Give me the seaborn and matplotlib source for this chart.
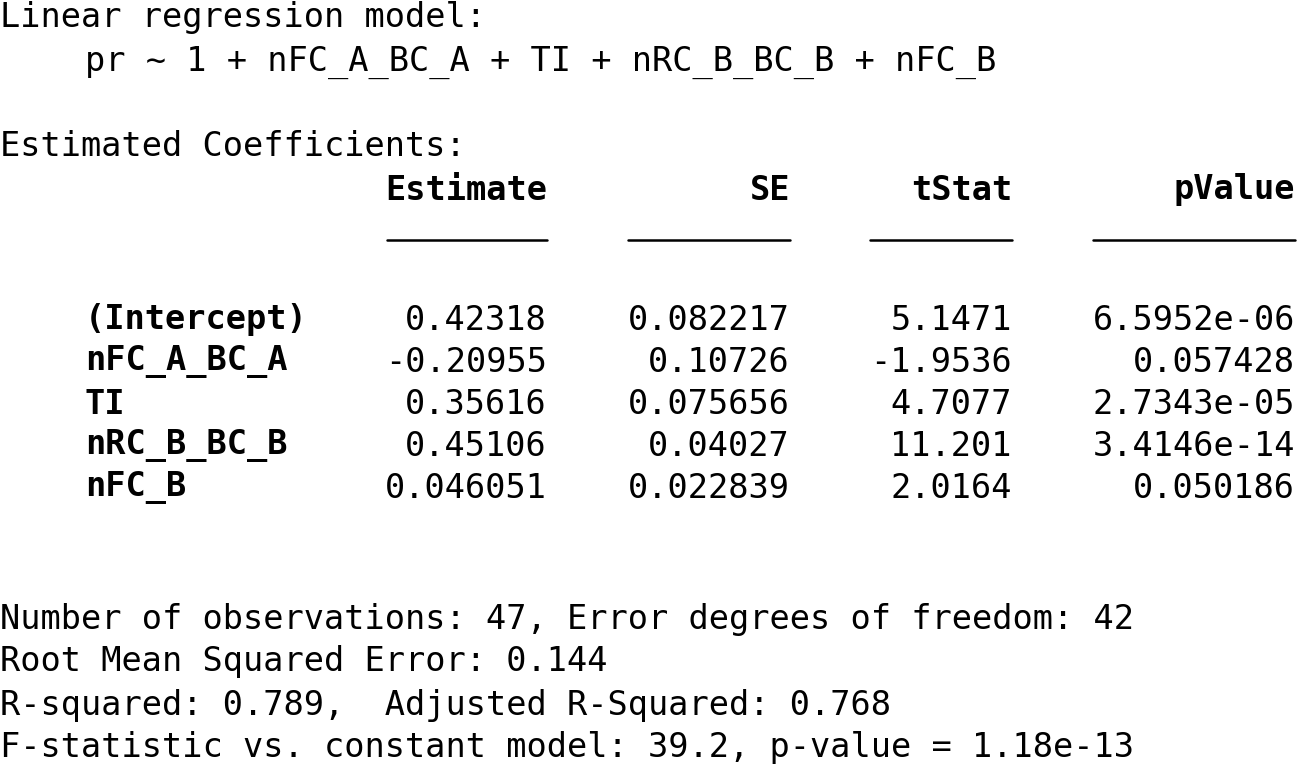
import matplotlib
matplotlib.use('Agg')
import matplotlib.pyplot as plt
import seaborn as sns

sns.set_style('white')
plt.rcParams['font.family'] = ['DejaVu Sans Mono']
plt.rcParams['text.color'] = 'black'

# Texto del modelo
titulo = 'Linear regression model:'
formula = 'pr ~ 1 + nFC_A_BC_A + TI + nRC_B_BC_B + nFC_B'
subtitulo = 'Estimated Coefficients:'

columnas = ['Estimate', 'SE', 'tStat', 'pValue']
terminos = ['(Intercept)', 'nFC_A_BC_A', 'TI', 'nRC_B_BC_B', 'nFC_B']
estimate = ['0.42318', '-0.20955', '0.35616', '0.45106', '0.046051']
se = ['0.082217', '0.10726', '0.075656', '0.04027', '0.022839']
tstat = ['5.1471', '-1.9536', '4.7077', '11.201', '2.0164']
pvalue = ['6.5952e-06', '0.057428', '2.7343e-05', '3.4146e-14', '0.050186']

resumen = [
    'Number of observations: 47, Error degrees of freedom: 42',
    'Root Mean Squared Error: 0.144',
    'R-squared: 0.789,  Adjusted R-Squared: 0.768',
    'F-statistic vs. constant model: 39.2, p-value = 1.18e-13',
]

fig = plt.figure(figsize=(13, 7.74), dpi=100)
ax = fig.add_axes([0, 0, 1, 1])
ax.set_xlim(0, 1300)
ax.set_ylim(774, 0)
ax.axis('off')

fs = 24.2
ax.text(0, 18, titulo, fontsize=fs, va='center', ha='left')
ax.text(85, 62, formula, fontsize=fs, va='center', ha='left')
ax.text(0, 147, subtitulo, fontsize=fs, va='center', ha='left')

# Encabezados y subrayados
bordes_der = [547, 790, 1012, 1295]
anchos = [160, 162, 142, 202]
for col, xr, w in zip(columnas, bordes_der, anchos):
    ax.text(xr, 190, col, fontsize=fs, fontweight='bold', va='center', ha='right')
    ax.plot([xr - w, xr], [240, 240], color='black', lw=1.8)

# Filas de coeficientes
y_filas = [320, 362, 404, 446, 488]
for i, y in enumerate(y_filas):
    ax.text(85, y, terminos[i], fontsize=fs, fontweight='bold', va='center', ha='left')
    for xr, serie in zip(bordes_der, [estimate, se, tstat, pvalue]):
        ax.text(xr, y, serie[i], fontsize=fs, va='center', ha='right')

# Resumen
for y, linea in zip([620, 662, 705, 748], resumen):
    ax.text(0, y, linea, fontsize=fs, va='center', ha='left')

fig.savefig('out.png', dpi=100, facecolor='white')
